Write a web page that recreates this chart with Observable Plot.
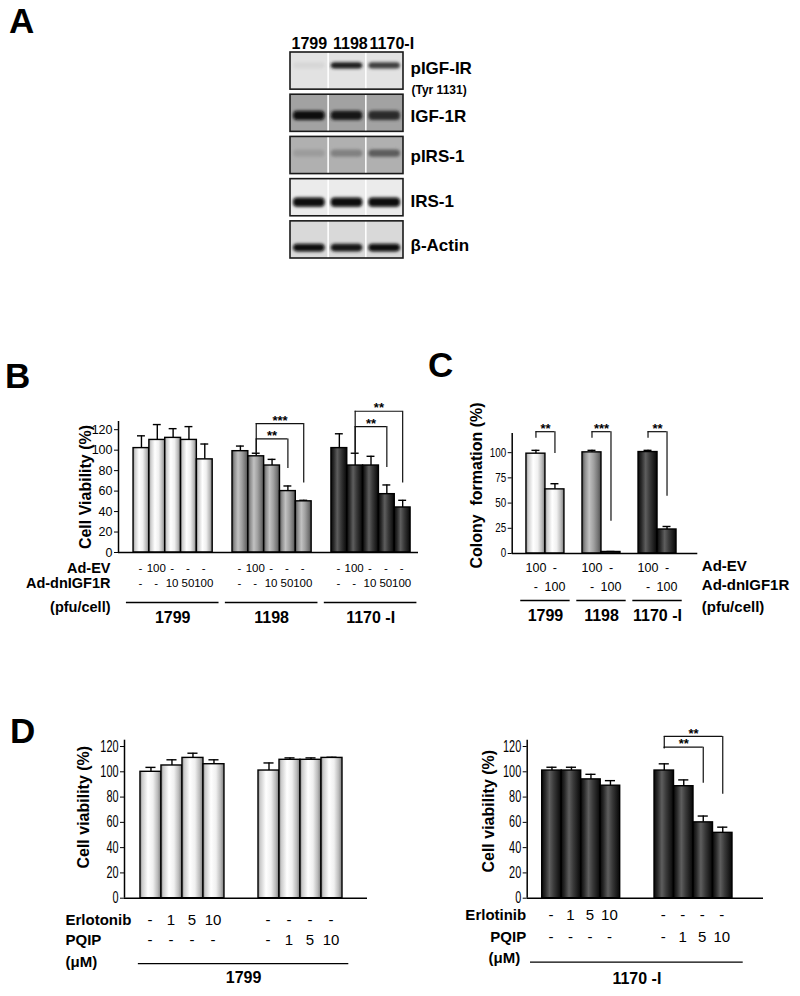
<!DOCTYPE html>
<html><head><meta charset="utf-8">
<script src="https://cdn.jsdelivr.net/npm/d3@7"></script>
<script src="https://cdn.jsdelivr.net/npm/@observablehq/plot@0.6"></script>
<style>
html,body{margin:0;padding:0;background:#fff;}
#fig{position:relative;width:800px;height:996px;overflow:hidden;font-family:"Liberation Sans",Arial,sans-serif;}
.panel{position:absolute;}
.letter{position:absolute;font-weight:bold;font-size:35px;line-height:1;color:#000;}
svg text{-webkit-font-smoothing:antialiased;}
</style></head><body><div id="fig"></div>
<script>
// ---------------- DATA ----------------
// Panel A (western blot)
const laneNames = ["1799", "1198", "1170-I"];
const blotNames = ["pIGF-IR", "IGF-1R", "pIRS-1", "IRS-1", "β-Actin"];
const blotSubLabel = "(Tyr 1131)";
const pIGF1R_band = [0.05, 0.9, 0.75];
const IGF1R_band = [1.0, 0.9, 0.78];
const pIRS1_band = [0.12, 0.28, 0.5];
const IRS1_band = [1.0, 1.0, 1.0];
const bActin_band = [1.0, 0.95, 1.0];
const bandMigration = [0.36, 0.57, 0.45, 0.63, 0.72];

// Panel B (cell viability, adenovirus)
const cellLines = ["1799", "1198", "1170-I"];
const cellLineLabels = ["1799", "1198", "1170 -I"];
const adEV_B = ["-", "100", "-", "-", "-"];
const adDn_B = ["-", "-", "10", "50", "100"];
const viabB_1799 = [102, 110, 112, 110, 91];
const sdB_1799 = [12, 15, 9, 13, 15];
const viabB_1198 = [99, 94, 85, 60, 50];
const sdB_1198 = [5, 3, 6, 5, 1];
const viabB_1170 = [102, 85, 85, 57, 44];
const sdB_1170 = [14, 12, 9, 9, 7];
const ticksB = [0, 20, 40, 60, 80, 100, 120];
const sigB = [
  {line: "1198", a: 1, b: 3, stars: "**"},
  {line: "1198", a: 1, b: 4, stars: "***"},
  {line: "1170-I", a: 1, b: 3, stars: "**"},
  {line: "1170-I", a: 1, b: 4, stars: "**"}
];

// Panel C (colony formation)
const adEV_C = ["100", "-"];
const adDn_C = ["-", "100"];
const colonyC_1799 = [99, 63.6];
const sdC_1799 = [3.3, 5.6];
const colonyC_1198 = [100.3, 1.5];
const sdC_1198 = [2, 0.5];
const colonyC_1170 = [100.6, 23.8];
const sdC_1170 = [1.7, 3];
const ticksC = [0, 25, 50, 75, 100];
const sigC = [
  {line: "1799", a: 0, b: 1, stars: "**"},
  {line: "1198", a: 0, b: 1, stars: "***"},
  {line: "1170-I", a: 0, b: 1, stars: "**"}
];

// Panel D (erlotinib / PQIP)
const erlDoseErl = ["-", "1", "5", "10"];
const erlDosePq = ["-", "-", "-", "-"];
const pqDoseErl = ["-", "-", "-", "-"];
const pqDosePq = ["-", "1", "5", "10"];
const viabD1799_erl = [100, 105, 111, 106];
const sdD1799_erl = [3.5, 4.5, 3.7, 3.5];
const viabD1799_pq = [101, 109.5, 109.5, 111];
const sdD1799_pq = [6, 1.5, 1.5, 0.5];
const viabD1170_erl = [101, 101, 94, 89];
const sdD1170_erl = [2.6, 2.6, 4, 4];
const viabD1170_pq = [101, 88.6, 60, 51.7];
const sdD1170_pq = [5.3, 5, 5, 4.5];
const ticksD = [0, 20, 40, 60, 80, 100, 120];
const sigD1170 = [
  {set: 1, a: 0, b: 2, stars: "**"},
  {set: 1, a: 0, b: 3, stars: "**"}
];

// ---------------- STYLE ----------------
const SANS = "'Liberation Sans', Arial, sans-serif";
const fig = document.getElementById("fig");

// shared gradient / filter definitions
const defsSvg = d3.select(fig).append("svg").attr("width", 1).attr("height", 1)
  .style("position", "absolute").style("left", "0px").style("top", "0px");
const defs = defsSvg.append("defs");
const GRADS = {
  gWhite: [[0, "#8a8a8a"], [0.12, "#cdcdcd"], [0.38, "#ffffff"], [0.62, "#f0f0f0"], [0.85, "#b8b8b8"], [1, "#7a7a7a"]],
  gGray: [[0, "#4a4a4a"], [0.15, "#8c8c8c"], [0.38, "#c2c2c2"], [0.62, "#a0a0a0"], [0.85, "#747474"], [1, "#4c4c4c"]],
  gDark: [[0, "#080808"], [0.18, "#2a2a2a"], [0.4, "#5e5e5e"], [0.62, "#3a3a3a"], [1, "#060606"]]
};
for (const [id, stops] of Object.entries(GRADS)) {
  const g = defs.append("linearGradient").attr("id", id).attr("x1", "0").attr("x2", "1").attr("y1", "0").attr("y2", "0");
  for (const [o, c] of stops) g.append("stop").attr("offset", o).attr("stop-color", c);
}
defs.append("filter").attr("id", "bandBlur").attr("x", "-30%").attr("y", "-80%").attr("width", "160%").attr("height", "260%")
  .append("feGaussianBlur").attr("stdDeviation", "1.6");

function place(node, left, top) {
  const d = document.createElement("div");
  d.className = "panel";
  d.style.left = left + "px";
  d.style.top = top + "px";
  d.appendChild(node);
  fig.appendChild(d);
}
function letter(t, left, top) {
  const d = document.createElement("div");
  d.className = "letter";
  d.textContent = t;
  d.style.left = left + "px";
  d.style.top = top + "px";
  fig.appendChild(d);
}
// horizontally condense tick glyphs (emulates the narrow typeface of the figure)
function squeezeText(nodes, sx) {
  nodes.each(function () {
    const xa = this.getAttribute("x");
    let xn = 0;
    if (xa != null && !isNaN(+xa)) { xn = +xa; this.setAttribute("x", 0); }
    const tr = this.getAttribute("transform") || "";
    this.setAttribute("transform", `${tr} translate(${xn},0) scale(${sx},1)`);
  });
}

// ---------------- PANEL A ----------------
(function () {
  const BOX = 0.88;
  const bandLevels = [pIGF1R_band, IGF1R_band, pIRS1_band, IRS1_band, bActin_band];
  const stripBg = ["#e2e2e2", "#a2a2a2", "#b0b0b0", "#ebebeb", "#d9d9d9"];
  const bandThick = [0.15, 0.22, 0.17, 0.22, 0.18];
  const labelShift = [-0.07, 0.07, 0.02, 0.1, 0.13];
  const headerShift = [0, 0.09, 0.19];
  const rows = blotNames.flatMap((b, bi) => laneNames.map((l, li) => ({bi, li, v: bandLevels[bi][li]})));
  const dividers = rows.filter(r => r.li > 0);
  const svg = Plot.plot({
    width: 530, height: 250,
    marginLeft: 20, marginRight: 397, marginTop: 32, marginBottom: 12,
    x: {domain: [0, laneNames.length], axis: null},
    y: {domain: [0, blotNames.length - 1 + BOX], reverse: true, axis: null},
    color: {type: "identity"},
    style: {background: "none", overflow: "visible", fontFamily: SANS},
    marks: [
      Plot.rect(rows, {x1: "li", x2: d => d.li + 1, y1: "bi", y2: d => d.bi + BOX, fill: d => stripBg[d.bi]}),
      Plot.rect(rows, {
        x1: "li", x2: d => d.li + 1,
        y1: d => d.bi + BOX * bandMigration[d.bi] - bandThick[d.bi] / 2,
        y2: d => d.bi + BOX * bandMigration[d.bi] + bandThick[d.bi] / 2,
        fill: d => d3.interpolateRgb(stripBg[d.bi], "#070707")(d.v),
        insetLeft: 3, insetRight: 3, rx: 4, ariaDescription: "band"
      }),
      Plot.ruleX(dividers, {x: "li", y1: "bi", y2: d => d.bi + BOX, stroke: "#ffffff", strokeWidth: 1.5}),
      Plot.rect(blotNames, {x1: d => 0, x2: d => laneNames.length, y1: (d, i) => i, y2: (d, i) => i + BOX,
        fill: "none", stroke: "#1a1a1a", strokeWidth: 1.6}),
      Plot.text(laneNames, {x: (d, i) => i + 0.5 + headerShift[i], y: d => 0, dy: -9, fontSize: 16, fontWeight: "bold", fontFamily: SANS}),
      Plot.text(blotNames, {x: d => laneNames.length, y: (d, i) => i + BOX / 2 + labelShift[i], dx: 7,
        textAnchor: "start", fontSize: 17, fontWeight: "bold", fontFamily: SANS}),
      Plot.text([blotSubLabel], {x: d => laneNames.length, y: d => BOX / 2 + 0.45, dx: 8,
        textAnchor: "start", fontSize: 12, fontWeight: "bold", fontFamily: SANS})
    ]
  });
  d3.select(svg).selectAll('[aria-description="band"]').attr("filter", "url(#bandBlur)");
  place(svg, 270, 20);
})();

// ---------------- generic bar panel ----------------
function barPanel(c) {
  const nPer = c.groups[0].means.length;
  const pos = (gi, bi) => gi * c.step + bi;
  const rows = c.groups.flatMap((g, gi) => g.means.map((m, bi) => ({gi, bi, p: pos(gi, bi), mean: m, top: m + g.sds[bi]})));
  const xMin = -c.lead, xMax = pos(c.groups.length - 1, nPer) + c.trail;
  const yMid = (c.yDomain[0] + c.yDomain[1]) / 2;
  const marks = [];
  marks.push(Plot.ruleX([xMin], {stroke: "#000", strokeWidth: 1.5}));
  marks.push(Plot.ruleX(rows, {x: d => d.p + 0.5, y1: "mean", y2: "top", stroke: "#000", strokeWidth: 1.4}));
  marks.push(Plot.ruleY(rows, {x1: d => d.p + 0.5 - c.cap, x2: d => d.p + 0.5 + c.cap, y: "top", stroke: "#000", strokeWidth: 1.4}));
  c.groups.forEach((g, gi) => marks.push(Plot.rect(rows.filter(r => r.gi === gi),
    {x1: "p", x2: d => d.p + 1, y1: d => 0, y2: "mean", fill: g.fill, stroke: "#000", strokeWidth: 1.4})));
  marks.push(Plot.ruleY([0], {stroke: "#000", strokeWidth: 1.5}));

  // significance brackets
  if (c.comps) {
    const comps = c.comps.map(k => {
      const gRows = rows.filter(r => r.gi === k.gi);
      const gMax = d3.max(gRows, r => r.top);
      const rank = c.comps.filter(o => o.gi === k.gi && (o.b - o.a) < (k.b - k.a)).length;
      const level = gMax + c.pad + rank * c.stepB;
      const A = gRows[k.a], B = gRows[k.b];
      return {xa: A.p + 0.5, xb: B.p + 0.5, level, ya: A.top + c.leftPad, yb: B.top + c.legPad, stars: k.stars};
    });
    const st = {stroke: "#111", strokeWidth: 1.2};
    marks.push(Plot.ruleY(comps, {x1: "xa", x2: "xb", y: "level", ...st}));
    marks.push(Plot.ruleX(comps, {x: "xa", y1: "level", y2: "ya", ...st}));
    marks.push(Plot.ruleX(comps, {x: "xb", y1: "level", y2: "yb", ...st}));
    marks.push(Plot.text(comps, {x: d => (d.xa + d.xb) / 2, y: "level", text: "stars", dy: -3,
      fontSize: 13, fontWeight: "bold", fontFamily: SANS}));
  }
  // treatment value rows
  c.treat.forEach(t => {
    const lab = rows.map(r => ({p: r.p, s: t.vals[r.gi][r.bi]}));
    marks.push(Plot.text(lab, {x: d => d.p + 0.5, y: d => 0, text: "s", dy: t.dy, dx: c.valDx,
      fill: "#000", fontFamily: SANS, fontSize: c.valSize}));
  });
  // row names
  c.names.forEach(n => marks.push(Plot.text([n.text], {x: d => c.nameSide === "left" ? xMin : xMax, y: d => 0,
    textAnchor: c.nameAnchor, dx: c.nameDx + (n.dx || 0), dy: n.dy, fontWeight: "bold", fontSize: c.nameSize, fontFamily: SANS})));
  // underlines + group labels
  const unders = c.under.map(u => ({x1: pos(u.from, 0) - c.extL, x2: pos(u.to, nPer) + c.extR, label: u.label}));
  marks.push(Plot.ruleY(unders, {x1: "x1", x2: "x2", y: d => 0, dy: c.lineDy, stroke: "#000", strokeWidth: 1.3}));
  marks.push(Plot.text(unders, {x: d => (d.x1 + d.x2) / 2, y: d => 0, text: "label", dy: c.labelDy,
    fontWeight: "bold", fontSize: 16, fontFamily: SANS}));
  // y title
  marks.push(Plot.text([c.title], {x: d => xMin, y: d => yMid, rotate: -90, dx: c.titleDx, dy: c.titleDy,
    textAnchor: "middle", fontWeight: "bold", fontSize: 16, fontFamily: SANS}));

  const svg = Plot.plot({
    width: c.width, height: c.height,
    marginLeft: c.ml, marginRight: c.mr, marginTop: c.mt, marginBottom: c.mb,
    x: {domain: [xMin, xMax], axis: null},
    y: {domain: c.yDomain, ticks: c.yTicks, tickSize: 4, tickPadding: 2, label: null},
    style: {background: "none", overflow: "visible", fontFamily: SANS, fontSize: c.tickFont + "px", color: "#000"},
    marks
  });
  if (c.tickSx !== 1) squeezeText(d3.select(svg).selectAll('[aria-label^="y-axis"] text'), c.tickSx);
  place(svg, c.left, c.top);
}

// ---------------- PANEL B ----------------
barPanel({
  left: 0, top: 395, width: 430, height: 240, ml: 118, mr: 12, mt: 26, mb: 83,
  yDomain: [0, 128], yTicks: ticksB, tickFont: 12.5, tickSx: 1,
  groups: [
    {means: viabB_1799, sds: sdB_1799, fill: "url(#gWhite)"},
    {means: viabB_1198, sds: sdB_1198, fill: "url(#gGray)"},
    {means: viabB_1170, sds: sdB_1170, fill: "url(#gDark)"}
  ],
  lead: 0.95, step: 6.25, trail: 0.5, cap: 0.25,
  comps: sigB.map(s => ({gi: cellLines.indexOf(s.line), a: s.a, b: s.b, stars: s.stars})),
  pad: 7, stepB: 15, legPad: 17, leftPad: 0,
  treat: [{vals: [adEV_B, adEV_B, adEV_B], dy: 16}, {vals: [adDn_B, adDn_B, adDn_B], dy: 31}],
  valSize: 11.5, valDx: -1,
  names: [{text: "Ad-EV", dy: 16}, {text: "Ad-dnIGF1R", dy: 31}, {text: "(pfu/cell)", dy: 55}],
  nameSide: "left", nameAnchor: "end", nameDx: -8, nameSize: 14.5,
  under: cellLineLabels.map((l, i) => ({from: i, to: i, label: l})), extL: 0.45, extR: 0.4,
  lineDy: 50, labelDy: 65,
  title: "Cell Viability (%)", titleDx: -33, titleDy: 0
});

// ---------------- PANEL C ----------------
barPanel({
  left: 420, top: 400, width: 380, height: 235, ml: 91.7, mr: 102.7, mt: 33, mb: 82,
  yDomain: [0, 119], yTicks: ticksC, tickFont: 12, tickSx: 0.82,
  groups: [
    {means: colonyC_1799, sds: sdC_1799, fill: "url(#gWhite)"},
    {means: colonyC_1198, sds: sdC_1198, fill: "url(#gGray)"},
    {means: colonyC_1170, sds: sdC_1170, fill: "url(#gDark)"}
  ],
  lead: 0.75, step: 2.95, trail: 1.12, cap: 0.21,
  comps: sigC.map(s => ({gi: cellLines.indexOf(s.line), a: s.a, b: s.b, stars: s.stars})),
  pad: 18.5, stepB: 0, legPad: 30, leftPad: 12,
  treat: [{vals: [adEV_C, adEV_C, adEV_C], dy: 14}, {vals: [adDn_C, adDn_C, adDn_C], dy: 33}],
  valSize: 12.5, valDx: 0,
  names: [{text: "Ad-EV", dy: 13}, {text: "Ad-dnIGF1R", dy: 32}, {text: "(pfu/cell)", dy: 54}],
  nameSide: "right", nameAnchor: "start", nameDx: 4, nameSize: 15,
  under: cellLineLabels.map((l, i) => ({from: i, to: i, label: l})), extL: 0.3, extR: 0.3,
  lineDy: 47, labelDy: 62,
  title: "Colony\u00a0 formation (%)", titleDx: -35.7, titleDy: -8
});

// ---------------- PANEL D left (1799) ----------------
barPanel({
  left: 0, top: 700, width: 395, height: 296, ml: 124, mr: 28, mt: 39.7, mb: 98.3,
  yDomain: [0, 125], yTicks: ticksD, tickFont: 16, tickSx: 0.68,
  groups: [
    {means: viabD1799_erl, sds: sdD1799_erl, fill: "url(#gWhite)"},
    {means: viabD1799_pq, sds: sdD1799_pq, fill: "url(#gWhite)"}
  ],
  lead: 0.76, step: 5.62, trail: 1.19, cap: 0.24,
  treat: [{vals: [erlDoseErl, pqDoseErl], dy: 22}, {vals: [erlDosePq, pqDosePq], dy: 42}],
  valSize: 15, valDx: -1,
  names: [{text: "Erlotonib", dy: 22}, {text: "PQIP", dy: 42}, {text: "(μM)", dy: 64}],
  nameSide: "left", nameAnchor: "start", nameDx: -59, nameSize: 15,
  under: [{from: 0, to: 1, label: "1799"}], extL: 0.1, extR: 0.3,
  lineDy: 65.5, labelDy: 80,
  title: "Cell viability (%)", titleDx: -41, titleDy: -12
});

// ---------------- PANEL D right (1170-I) ----------------
barPanel({
  left: 395, top: 700, width: 405, height: 296, ml: 131.7, mr: 37, mt: 39.7, mb: 98.3,
  yDomain: [0, 125], yTicks: ticksD, tickFont: 16, tickSx: 0.68,
  groups: [
    {means: viabD1170_erl, sds: sdD1170_erl, fill: "url(#gDark)"},
    {means: viabD1170_pq, sds: sdD1170_pq, fill: "url(#gDark)"}
  ],
  lead: 0.77, step: 5.76, trail: 1.59, cap: 0.26,
  comps: sigD1170.map(s => ({gi: s.set, a: s.a, b: s.b, stars: s.stars})),
  pad: 13.2, stepB: 8.5, legPad: 26, leftPad: 12,
  treat: [{vals: [erlDoseErl, pqDoseErl], dy: 17.3}, {vals: [erlDosePq, pqDosePq], dy: 39.3}],
  valSize: 15, valDx: -1,
  names: [{text: "Erlotinib", dy: 17.3}, {text: "PQIP", dy: 39.3}, {text: "(μM)", dy: 60.3, dx: -6}],
  nameSide: "left", nameAnchor: "end", nameDx: -1, nameSize: 15,
  under: [{from: 0, to: 1, label: "1170 -I"}], extL: 0.6, extR: 0.55,
  lineDy: 64, labelDy: 81,
  title: "Cell viability (%)", titleDx: -38.7, titleDy: -8
});

// panel letters
letter("A", 9, 3);
letter("B", 5, 358);
letter("C", 428, 347);
letter("D", 10, 713);
</script>
</body></html>
